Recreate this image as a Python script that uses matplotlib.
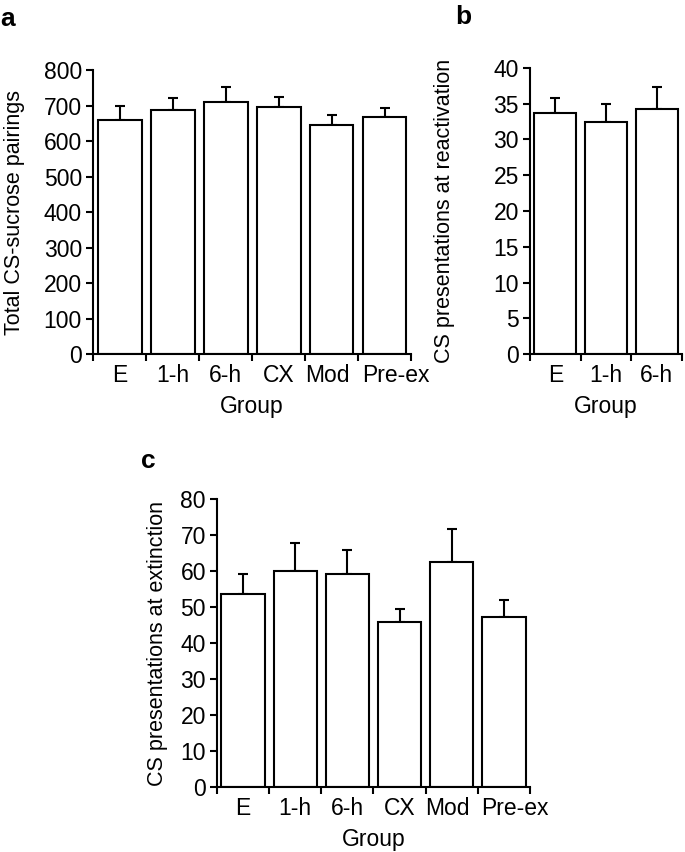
import numpy as np
import matplotlib
matplotlib.use("Agg")
import matplotlib.pyplot as plt
import matplotlib.transforms as mtransforms

plt.rcParams['font.family'] = ['Liberation Sans', 'DejaVu Sans']

# panel a: total CS-sucrose pairings
groups_a = ["E", "1-h", "6-h", "CX", "Mod", "Pre-ex"]
pairings = [659, 687, 711, 697, 645, 668]
pairings_err = [39, 35, 42, 27, 28, 24]

# panel b: CS presentations at reactivation
groups_b = ["E", "1-h", "6-h"]
reactivation = [33.7, 32.4, 34.3]
reactivation_err = [2.1, 2.5, 3.0]

# panel c: CS presentations at extinction
groups_c = ["E", "1-h", "6-h", "CX", "Mod", "Pre-ex"]
extinction = [53.5, 59.9, 59.3, 45.8, 62.5, 47.1]
extinction_err = [5.6, 7.8, 6.6, 3.6, 9.2, 4.9]

FS = 16.5
LW = 1.5
# the last two labels are nudged sideways in the original figure (px)
label_shift = {"Mod": -4, "Pre-ex": 11}


def bar_panel(ax, groups, vals, errs, ymax, ystep, ylabel, ylab_x):
    n = len(groups)
    x = np.arange(n) + 0.5
    ax.bar(x, vals, width=0.83, color="white", edgecolor="black", linewidth=LW, zorder=2)
    ax.errorbar(x, vals, yerr=[np.zeros(n), errs], fmt="none", ecolor="black",
                elinewidth=LW, capsize=3.5, capthick=LW, zorder=1)
    ax.set_xlim(0, n)
    ax.set_ylim(0, ymax)
    ax.set_yticks(np.arange(0, ymax + ystep / 2, ystep))
    # ticks sit between the bars, labels under the bars
    ax.set_xticks(np.arange(0, n + 1))
    ax.set_xticklabels([])
    ax.set_xticks(x, minor=True)
    ax.set_xticklabels(groups, minor=True)
    ax.tick_params(axis="x", which="minor", length=0, labelsize=FS, pad=7)
    ax.tick_params(axis="x", which="major", length=5, width=LW)
    ax.tick_params(axis="y", length=5, width=LW, labelsize=FS, pad=3)
    for lab in ax.get_xticklabels(minor=True):
        dx = label_shift.get(lab.get_text(), 0)
        if dx:
            off = mtransforms.ScaledTranslation(dx / 100, 0, fig.dpi_scale_trans)
            lab.set_transform(lab.get_transform() + off)
    for s in ["top", "right"]:
        ax.spines[s].set_visible(False)
    for s in ["left", "bottom"]:
        ax.spines[s].set_linewidth(LW)
    ax.spines["bottom"].set_bounds(0, n)
    ax.set_xlabel("Group", fontsize=FS, labelpad=6)
    ax.set_ylabel(ylabel, fontsize=15.5, va="center")
    ax.yaxis.set_label_coords(
        ylab_x, 0.5,
        transform=mtransforms.blended_transform_factory(fig.transFigure, ax.transAxes))


fig = plt.figure(figsize=(6.85, 8.52), dpi=100)

ax_a = fig.add_axes([0.1358, 0.5845, 0.4642, 0.3333])
bar_panel(ax_a, groups_a, pairings, pairings_err, 800, 100,
          "Total CS-sucrose pairings", 15 / 685)

ax_b = fig.add_axes([0.7737, 0.5845, 0.2219, 0.3357])
bar_panel(ax_b, groups_b, reactivation, reactivation_err, 40, 5,
          "CS presentations at reactivation", 444 / 685)

ax_c = fig.add_axes([0.3168, 0.0763, 0.4569, 0.338])
bar_panel(ax_c, groups_c, extinction, extinction_err, 80, 10,
          "CS presentations at extinction", 157 / 685)

fig.text(0.0, 0.978, "a", fontsize=19, fontweight="bold", va="center", ha="left")
fig.text(0.664, 0.980, "b", fontsize=19, fontweight="bold", va="center", ha="left")
fig.text(0.206, 0.459, "c", fontsize=19, fontweight="bold", va="center", ha="left")

fig.savefig("out.png", dpi=100)
